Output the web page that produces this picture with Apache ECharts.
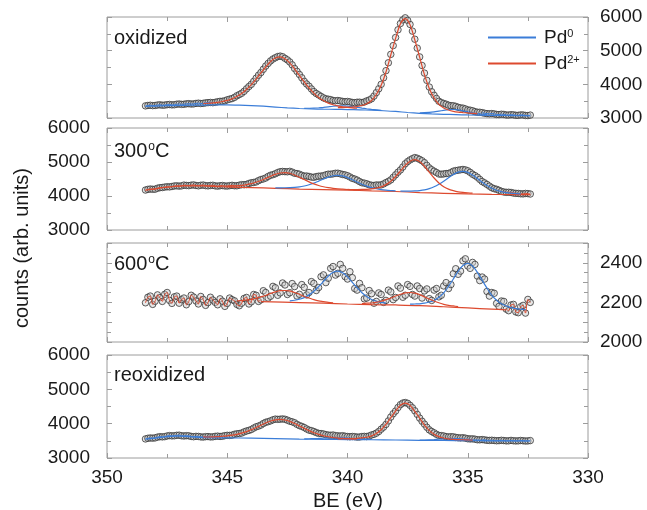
<!DOCTYPE html>
<html>
<head>
<meta charset="utf-8">
<script src="https://cdn.jsdelivr.net/npm/echarts@6/dist/echarts.min.js"></script>
<style>
html, body { margin: 0; padding: 0; background: #fff; }
#chart { width: 647px; height: 510px; }
</style>
</head>
<body>
<div id="chart"></div>
<script>
// binding energy grid (eV), shared by all four spectra
const BE = [348.4, 348.2, 348.0, 347.8, 347.6, 347.4, 347.2, 347.0, 346.8, 346.6,
            346.4, 346.2, 346.0, 345.8, 345.6, 345.4, 345.2, 345.0, 344.8, 344.6,
            344.4, 344.2, 344.0, 343.8, 343.6, 343.4, 343.2, 343.0, 342.8, 342.6,
            342.4, 342.2, 342.0, 341.8, 341.6, 341.4, 341.2, 341.0, 340.8, 340.6,
            340.4, 340.2, 340.0, 339.8, 339.6, 339.4, 339.2, 339.0, 338.8, 338.6,
            338.4, 338.2, 338.0, 337.8, 337.6, 337.4, 337.2, 337.0, 336.8, 336.6,
            336.4, 336.2, 336.0, 335.8, 335.6, 335.4, 335.2, 335.0, 334.8, 334.6,
            334.4, 334.2, 334.0, 333.8, 333.6, 333.4, 333.2, 333.0, 332.8, 332.6, 332.4];
// the in-between channels
const BE2 = [348.3, 348.1, 347.9, 347.7, 347.5, 347.3, 347.1, 346.9, 346.7, 346.5,
             346.3, 346.1, 345.9, 345.7, 345.5, 345.3, 345.1, 344.9, 344.7, 344.5,
             344.3, 344.1, 343.9, 343.7, 343.5, 343.3, 343.1, 342.9, 342.7, 342.5,
             342.3, 342.1, 341.9, 341.7, 341.5, 341.3, 341.1, 340.9, 340.7, 340.5,
             340.3, 340.1, 339.9, 339.7, 339.5, 339.3, 339.1, 338.9, 338.7, 338.5,
             338.3, 338.1, 337.9, 337.7, 337.5, 337.3, 337.1, 336.9, 336.7, 336.5,
             336.3, 336.1, 335.9, 335.7, 335.5, 335.3, 335.1, 334.9, 334.7, 334.5,
             334.3, 334.1, 333.9, 333.7, 333.5, 333.3, 333.1, 332.9, 332.7, 332.5];
const xTicks = [350, 345, 340, 335, 330];

// --- oxidized ---
const oxData = [3360, 3378, 3372, 3392, 3383, 3401, 3394, 3416, 3408, 3426,
                3419, 3440, 3435, 3456, 3455, 3484, 3497, 3540, 3577, 3660,
                3735, 3866, 4000, 4182, 4350, 4543, 4695, 4790, 4838, 4772,
                4664, 4470, 4292, 4088, 3944, 3784, 3685, 3598, 3558, 3520,
                3519, 3492, 3491, 3460, 3468, 3459, 3508, 3572, 3755, 4000,
                4406, 4890, 5392, 5806, 5975, 5780, 5340, 4815, 4333, 3920,
                3674, 3497, 3433, 3380, 3364, 3318, 3293, 3240, 3215, 3171,
                3160, 3130, 3131, 3105, 3112, 3090, 3098, 3080, 3092, 3075, 3086];
const oxData2 = [3372, 3368, 3385, 3380, 3396, 3390, 3409, 3405, 3421, 3415,
                 3433, 3430, 3450, 3462, 3465, 3495, 3512, 3560, 3612, 3695,
                 3792, 3935, 4088, 4270, 4448, 4622, 4752, 4825, 4820, 4726,
                 4578, 4385, 4195, 4010, 3862, 3728, 3642, 3570, 3545, 3512,
                 3508, 3484, 3479, 3455, 3470, 3476, 3534, 3650, 3868, 4195,
                 4640, 5150, 5620, 5915, 5900, 5580, 5075, 4560, 4118, 3780,
                 3580, 3458, 3410, 3365, 3345, 3300, 3270, 3232, 3188, 3170,
                 3140, 3125, 3122, 3102, 3106, 3088, 3094, 3079, 3090, 3072];
const oxBg = [[348.4, 3345], [348, 3355], [347.5, 3365], [347, 3372], [346.5, 3380], [346, 3385],
              [345.5, 3388], [345, 3388], [344.5, 3381], [344, 3368], [343.5, 3350], [343, 3325],
              [342.5, 3301], [342, 3282], [341.5, 3270], [341, 3262], [340.5, 3257], [340, 3250],
              [339.5, 3242], [339, 3232], [338.5, 3216], [338, 3195], [337.5, 3164], [337, 3140],
              [336.5, 3123], [336, 3110], [335.5, 3100], [335, 3092], [334, 3080], [333, 3070], [332.4, 3065]];
const oxPd2a = [3431, 3438, 3450, 3466, 3490, 3523, 3569, 3638, 3725, 3845, 3990, 4157, 4338, 4515,
                4677, 4783, 4815, 4763, 4640, 4460, 4265, 4072, 3894, 3738, 3610, 3517, 3443, 3393,
                3358, 3331, 3313, 3299, 3290];                                   // from 346.0
const oxPd2b = [3306, 3311, 3317, 3325, 3341, 3371, 3425, 3521, 3699, 3970, 4366, 4872, 5363, 5796,
                5950, 5771, 5316, 4808, 4287, 3876, 3593, 3404, 3299, 3237, 3199, 3176, 3162, 3150,
                3140, 3132];                                                     // from 340.4
const oxPd0a = [3288, 3290, 3294, 3304, 3317, 3333, 3349, 3361, 3363, 3355, 3338, 3317, 3295, 3275,
                3258, 3244, 3231];                                               // from 341.8
const oxPd0b = [3156, 3159, 3166, 3182, 3205, 3227, 3247, 3252, 3239, 3212, 3182, 3152, 3128, 3112,
                3100];                                                           // from 337.0

// --- 300 C ---
const t300Data = [4175, 4205, 4200, 4245, 4262, 4268, 4295, 4290, 4320, 4305,
                  4326, 4300, 4322, 4298, 4315, 4290, 4308, 4292, 4314, 4300,
                  4334, 4340, 4390, 4414, 4484, 4530, 4610, 4655, 4715, 4716,
                  4725, 4668, 4640, 4585, 4575, 4550, 4582, 4596, 4642, 4652,
                  4670, 4632, 4596, 4520, 4467, 4390, 4358, 4315, 4325, 4328,
                  4395, 4474, 4624, 4766, 4948, 5062, 5130, 5076, 4980, 4826,
                  4730, 4648, 4650, 4664, 4730, 4757, 4780, 4741, 4640, 4553,
                  4425, 4340, 4242, 4196, 4136, 4108, 4104, 4078, 4066, 4075, 4058];
const t300Data2 = [4195, 4198, 4228, 4250, 4272, 4279, 4300, 4298, 4310, 4318,
                   4309, 4315, 4305, 4310, 4298, 4302, 4296, 4305, 4302, 4318,
                   4332, 4368, 4398, 4452, 4502, 4575, 4628, 4690, 4722, 4712,
                   4702, 4660, 4608, 4588, 4556, 4570, 4586, 4622, 4640, 4668,
                   4652, 4620, 4560, 4498, 4425, 4378, 4332, 4310, 4320, 4355,
                   4430, 4548, 4700, 4852, 5012, 5098, 5110, 5036, 4900, 4772,
                   4690, 4640, 4660, 4690, 4748, 4772, 4768, 4695, 4600, 4488,
                   4385, 4290, 4215, 4168, 4118, 4110, 4086, 4075, 4062, 4070];
const t300Bg = [[348.4, 4170], [348, 4210], [347.6, 4250], [347.2, 4280], [346.8, 4295], [346.4, 4300],
                [346, 4295], [345.6, 4285], [345.2, 4272], [344.8, 4262], [344, 4246], [343, 4226],
                [342, 4203], [341, 4188], [340, 4172], [339, 4152], [338, 4132], [337, 4102],
                [336, 4080], [335, 4060], [334, 4047], [333, 4041], [332.4, 4040]];
const t300Pd2a = [4290, 4293, 4300, 4313, 4334, 4364, 4404, 4457, 4518, 4580, 4637, 4677, 4688, 4669,
                  4619, 4553, 4484, 4416, 4356, 4309, 4272, 4244, 4224, 4210, 4200, 4191, 4184, 4177]; // from 345.0
const t300Pd0a = [4241, 4240, 4242, 4246, 4253, 4268, 4295, 4332, 4379, 4438, 4500, 4555, 4596, 4609,
                  4590, 4542, 4480, 4411, 4345, 4291, 4247, 4213, 4189, 4172, 4160, 4150];         // from 343.0
const t300Pd2b = [4192, 4191, 4190, 4192, 4196, 4207, 4232, 4269, 4335, 4436, 4574, 4733, 4898, 5024,
                  5068, 5012, 4875, 4699, 4530, 4384, 4275, 4201, 4156, 4123, 4104, 4092, 4083];   // from 340.0
const t300Pd0b = [4146, 4144, 4145, 4148, 4160, 4181, 4217, 4270, 4345, 4436, 4538, 4630, 4702, 4724,
                  4694, 4615, 4516, 4407, 4310, 4229, 4170, 4128, 4101, 4082, 4072, 4065];         // from 337.8

// --- 600 C ---
const t600Data = [2198, 2232, 2206, 2224, 2241, 2210, 2228, 2196, 2222, 2204,
                  2227, 2192, 2215, 2199, 2212, 2188, 2206, 2195, 2214, 2190,
                  2196, 2225, 2203, 2236, 2213, 2250, 2231, 2274, 2248, 2288,
                  2249, 2280, 2241, 2276, 2250, 2296, 2275, 2339, 2322, 2381,
                  2347, 2372, 2318, 2325, 2262, 2274, 2222, 2244, 2205, 2240,
                  2210, 2253, 2225, 2272, 2236, 2281, 2232, 2270, 2258, 2219,
                  2262, 2228, 2283, 2270, 2345, 2342, 2410, 2384, 2402, 2333,
                  2328, 2255, 2250, 2195, 2207, 2166, 2187, 2152, 2178, 2146, 2200];
const t600Data2 = [2226, 2190, 2238, 2205, 2250, 2195, 2232, 2214, 2188, 2236,
                   2207, 2230, 2185, 2226, 2200, 2218, 2180, 2222, 2208, 2183,
                   2220, 2192, 2240, 2205, 2259, 2222, 2281, 2236, 2298, 2240,
                   2295, 2232, 2290, 2238, 2305, 2260, 2330, 2300, 2372, 2338,
                   2392, 2330, 2355, 2270, 2296, 2218, 2260, 2196, 2248, 2200,
                   2262, 2214, 2283, 2226, 2290, 2240, 2283, 2222, 2268, 2210,
                   2270, 2236, 2300, 2290, 2370, 2358, 2420, 2372, 2392, 2310,
                   2318, 2232, 2246, 2180, 2205, 2158, 2190, 2148, 2185, 2215];
const t600Bg = [[343.6, 2204], [342, 2199], [341, 2196], [340, 2192], [339, 2189], [338, 2187],
                [337, 2184], [336, 2178], [335, 2172], [334, 2166], [333.4, 2162]];
const t600Pd2a = [2208, 2209, 2212, 2215, 2221, 2228, 2235, 2245, 2253, 2259, 2260, 2258, 2250, 2241,
                  2230, 2222, 2214, 2208, 2204, 2200, 2198];                     // from 344.6
const t600Pd0a = [2208, 2211, 2216, 2224, 2238, 2256, 2280, 2306, 2332, 2352, 2358, 2350, 2329, 2301,
                  2274, 2249, 2230, 2215, 2206, 2200, 2196];                     // from 342.4
const t600Pd2b = [2194, 2196, 2197, 2201, 2206, 2214, 2222, 2232, 2241, 2248, 2250, 2247, 2239, 2228,
                  2217, 2207, 2198, 2190, 2185, 2182, 2179];                     // from 339.4
const t600Pd0b = [2191, 2192, 2193, 2196, 2202, 2210, 2226, 2248, 2281, 2318, 2357, 2386, 2397, 2384,
                  2352, 2311, 2272, 2236, 2211, 2193, 2182, 2174, 2169, 2166, 2164]; // from 337.4

// --- reoxidized ---
const reoxData = [3555, 3583, 3586, 3620, 3622, 3652, 3648, 3664, 3641, 3646,
                  3620, 3628, 3610, 3624, 3616, 3637, 3633, 3660, 3666, 3705,
                  3727, 3786, 3830, 3908, 3959, 4040, 4082, 4133, 4130, 4128,
                  4072, 4026, 3943, 3888, 3812, 3771, 3716, 3700, 3668, 3669,
                  3645, 3649, 3625, 3627, 3609, 3626, 3625, 3671, 3724, 3840,
                  3979, 4192, 4368, 4554, 4616, 4534, 4374, 4162, 3985, 3820,
                  3733, 3657, 3642, 3614, 3617, 3590, 3590, 3561, 3558, 3532,
                  3537, 3515, 3517, 3502, 3515, 3499, 3512, 3497, 3510, 3495, 3507];
const reoxData2 = [3574, 3578, 3608, 3615, 3642, 3644, 3661, 3648, 3650, 3628,
                   3630, 3615, 3622, 3614, 3630, 3628, 3652, 3658, 3690, 3712,
                   3760, 3804, 3872, 3930, 4004, 4058, 4112, 4126, 4138, 4102,
                   4054, 3980, 3920, 3846, 3796, 3740, 3712, 3680, 3662, 3652,
                   3640, 3634, 3620, 3622, 3612, 3630, 3642, 3690, 3772, 3900,
                   4080, 4290, 4470, 4600, 4592, 4462, 4270, 4070, 3895, 3772,
                   3690, 3652, 3622, 3620, 3600, 3584, 3578, 3555, 3548, 3530,
                   3528, 3512, 3510, 3506, 3508, 3501, 3503, 3500, 3502, 3498];
const reoxBg = [[348.4, 3550], [348, 3580], [347.6, 3615], [347.2, 3640], [347, 3640], [346.6, 3620],
                [346.2, 3600], [345.8, 3590], [345, 3587], [344, 3578], [343, 3567], [342, 3552],
                [341, 3542], [340, 3536], [339, 3531], [338, 3524], [337, 3514], [336, 3509],
                [335, 3504], [334, 3500], [333, 3497], [332.4, 3495]];
const reoxPd2a = [3614, 3612, 3616, 3622, 3633, 3645, 3664, 3690, 3725, 3770, 3827, 3890, 3955, 4020,
                  4077, 4113, 4124, 4107, 4065, 4003, 3933, 3864, 3797, 3736, 3687, 3648, 3618, 3597,
                  3583, 3571, 3564, 3557, 3553];                                 // from 346.0
const reoxPd2b = [3557, 3560, 3562, 3565, 3572, 3584, 3605, 3643, 3714, 3821, 3976, 4174, 4366, 4537,
                  4600, 4533, 4358, 4162, 3961, 3804, 3695, 3622, 3582, 3559, 3545, 3536, 3531, 3527,
                  3522];                                                         // from 340.4
const reoxPd0a = [3558, 3560, 3564, 3569, 3575, 3582, 3587, 3588, 3585, 3578, 3568, 3559, 3551, 3544,
                  3539];                                                         // from 341.8
const reoxPd0b = [3520, 3523, 3528, 3536, 3546, 3556, 3564, 3567, 3562, 3552, 3540, 3528, 3518, 3511,
                  3506];                                                         // from 337.0

const FONT = '"Liberation Sans", Arial, Helvetica, sans-serif';
const BLUE = '#3b7dd8';
const RED = '#dd4a2f';
const FRAME = '#9c9c9c';
const INK = '#1a1a1a';

// pair a fit curve with the BE grid, starting at energy `start`
function onGrid(start, ys) {
    const k = BE.indexOf(start);
    return ys.map((y, i) => [BE[k + i], y]);
}
// both channel sets of one spectrum, high BE first
function merged(a, b) {
    const pts = a.map((y, k) => [BE[k], y]).concat(b.map((y, k) => [BE2[k], y]));
    return pts.sort((p, q) => q[0] - p[0]);
}

// trace: [color, keep data above this BE, keep data below this BE]
const panels = [
    { label: 'oxidized', top: 17, height: 101, yMin: 3000, yMax: 6000, yStep: 1000, side: 'right',
      data: merged(oxData, oxData2), bg: oxBg, bgColor: BLUE, trace: [BLUE, 345.6, 334.4],
      pd0: [onGrid(341.8, oxPd0a), onGrid(337.0, oxPd0b)],
      pd2: [onGrid(346.0, oxPd2a), onGrid(340.4, oxPd2b)] },
    { label: '300{sup|o}C', top: 128, height: 102, yMin: 3000, yMax: 6000, yStep: 1000, side: 'left',
      data: merged(t300Data, t300Data2), bg: t300Bg, bgColor: RED, trace: [RED, 344.6, 333.6],
      pd0: [onGrid(343.0, t300Pd0a), onGrid(337.8, t300Pd0b)],
      pd2: [onGrid(345.0, t300Pd2a), onGrid(340.0, t300Pd2b)] },
    { label: '600{sup|o}C', top: 243, height: 99, yMin: 2000, yMax: 2500, yStep: 100, side: 'right',
      data: merged(t600Data, t600Data2), bg: t600Bg, bgColor: RED, trace: [RED, 343.6, 333.4],
      pd0: [onGrid(342.4, t600Pd0a), onGrid(337.4, t600Pd0b)],
      pd2: [onGrid(344.6, t600Pd2a), onGrid(339.4, t600Pd2b)] },
    { label: 'reoxidized', top: 355, height: 103, yMin: 3000, yMax: 6000, yStep: 1000, side: 'left',
      data: merged(reoxData, reoxData2), bg: reoxBg, bgColor: BLUE, trace: [BLUE, 345.2, 334.4],
      pd0: [onGrid(341.8, reoxPd0a), onGrid(337.0, reoxPd0b)],
      pd2: [onGrid(346.0, reoxPd2a), onGrid(340.4, reoxPd2b)] }
];

const grids = [], xAxes = [], yAxes = [], series = [], graphics = [];
const tickStyle = { color: FRAME, width: 1 };

panels.forEach((p, i) => {
    grids.push({ left: 107, width: 481, top: p.top, height: p.height,
                 show: true, borderColor: FRAME, borderWidth: 1 });
    ['bottom', 'top'].forEach(pos => {
        xAxes.push({
            gridIndex: i, type: 'value', position: pos, inverse: true,
            min: xTicks[4], max: xTicks[0], interval: 5,
            axisLine: { show: false },
            axisTick: { inside: true, length: 5, lineStyle: tickStyle },
            minorTick: { show: true, splitNumber: 2, length: 4, lineStyle: tickStyle },
            splitLine: { show: false },
            axisLabel: { show: pos === 'bottom' && i === panels.length - 1, margin: 10,
                         fontSize: 19, fontFamily: FONT, color: INK }
        });
    });
    ['left', 'right'].forEach(pos => {
        yAxes.push({
            gridIndex: i, type: 'value', position: pos,
            min: p.yMin, max: p.yMax, interval: p.yStep,
            axisLine: { show: false },
            axisTick: { inside: true, length: 5, lineStyle: tickStyle },
            minorTick: { show: true, splitNumber: 2, length: 4, lineStyle: tickStyle },
            splitLine: { show: false },
            axisLabel: {
                show: pos === p.side, margin: pos === 'left' ? 17 : 12,
                fontSize: 19, fontFamily: FONT, color: INK,
                formatter: v => (p.yStep === 100 && (v % 200 !== 0 || v === p.yMax)) ? '' : String(v)
            }
        });
    });

    const ax = { xAxisIndex: 2 * i, yAxisIndex: 2 * i };
    series.push(Object.assign({
        type: 'scatter', name: 'data', z: 2, silent: true,
        data: p.data,
        symbol: 'circle', symbolSize: 6.5,
        itemStyle: { color: 'rgba(205,205,205,0.6)', borderColor: '#363636', borderWidth: 1 }
    }, ax));
    const line = (name, color, data, width) => Object.assign({
        type: 'line', name: name, z: 4, data: data, showSymbol: false, smooth: 0.3,
        color: color, itemStyle: { color: color },
        lineStyle: { color: color, width: width || 1.2 }
    }, ax);
    const [tc, hi, lo] = p.trace;
    series.push(line(tc === BLUE ? 'Pd0' : 'Pd2+', tc, p.data.map(d =>
        [d[0], (d[0] >= hi || d[0] <= lo) ? d[1] : null]), 1));
    series.push(line(p.bgColor === BLUE ? 'Pd0' : 'Pd2+', p.bgColor, p.bg));
    p.pd0.forEach(d => series.push(line('Pd0', BLUE, d)));
    p.pd2.forEach(d => series.push(line('Pd2+', RED, d)));
});

const labelY = [38, 151, 264, 375];
panels.forEach((p, i) => {
    graphics.push({
        type: 'text', x: 114, y: labelY[i], z: 10,
        style: { text: p.label, fontSize: 20, fontFamily: FONT, fill: INK, verticalAlign: 'middle',
                 rich: { sup: { fontSize: 12, verticalAlign: 'top', fill: INK, padding: [0, 0, 8, 1] } } }
    });
});
graphics.push({
    type: 'text', x: 22, y: 248, rotation: Math.PI / 2, z: 10,
    style: { text: 'counts (arb. units)', fontSize: 20, fontFamily: FONT, fill: INK,
             align: 'center', verticalAlign: 'middle' }
});
graphics.push({
    type: 'text', x: 348, y: 501, z: 10,
    style: { text: 'BE (eV)', fontSize: 20, fontFamily: FONT, fill: INK,
             align: 'center', verticalAlign: 'middle' }
});

const chart = echarts.init(document.getElementById('chart'), null, { renderer: 'canvas' });
chart.setOption({
    animation: false,
    backgroundColor: '#fff',
    grid: grids,
    xAxis: xAxes,
    yAxis: yAxes,
    legend: {
        data: ['Pd0', 'Pd2+'], orient: 'vertical', left: 483, top: 23,
        icon: 'rect', itemWidth: 48, itemHeight: 2, itemGap: 7,
        selectedMode: false,
        formatter: n => n === 'Pd0' ? 'Pd{sup|0}' : 'Pd{sup|2+}',
        textStyle: { fontSize: 19, fontFamily: FONT, color: INK, padding: [0, 0, 0, 3],
                     rich: { sup: { fontSize: 11, verticalAlign: 'top', padding: [0, 0, 8, 0] } } }
    },
    graphic: graphics,
    series: series
});
</script>
</body>
</html>
